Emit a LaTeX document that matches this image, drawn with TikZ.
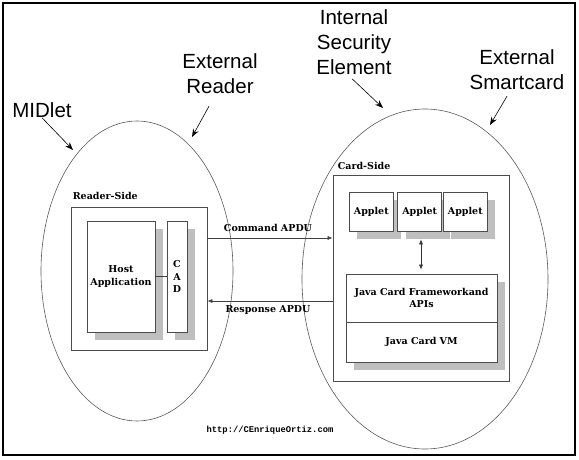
\documentclass[tikz,border=0pt]{standalone}
\usepackage{fontspec}
\setmainfont{DejaVu Serif}
\setsansfont{Liberation Sans}
\setmonofont{Liberation Mono}
\usetikzlibrary{arrows.meta,shadows}

\tikzset{
  callout/.style={font=\sffamily\fontsize{20.5}{25}\selectfont, align=center, inner sep=0pt},
  pointer/.style={-{Stealth[length=8pt,width=6pt]}, line width=0.6pt},
  rim/.style={draw=black!65, line width=0.6pt},
  panel/.style={draw=black!70, fill=white, line width=0.7pt, inner sep=0pt},
  block/.style={panel, font=\bfseries\fontsize{9.5}{12.5}\selectfont, align=center,
    drop shadow={shadow xshift=8pt, shadow yshift=-8pt, fill=black!25, opacity=1}},
  tag/.style={font=\bfseries\fontsize{9.5}{12}\selectfont, inner sep=0pt},
  flow/.style={-{Latex[length=5pt,width=4pt]}, draw=black!75, line width=0.6pt}
}

\begin{document}
\begin{tikzpicture}[x=1pt,y=-1pt]
  \useasboundingbox (0,0) rectangle (579,460);
  \draw[line width=2.5pt] (3,3) rectangle (575,455);

  % the two ellipses
  \draw[rim] (137,271) ellipse (96 and 150);
  \draw[rim] (425,279) ellipse (123 and 170);

  % callouts
  \node[callout] (midlet) at (42,110) {MIDlet};
  \node[callout] (xreader) at (220,74) {External\\Reader};
  \node[callout] (ise) at (354,42) {Internal\\Security\\Element};
  \node[callout] (xcard) at (517,70) {External\\Smartcard};
  \coordinate (midlet-tip) at (73,150);
  \coordinate (xreader-tip) at (192,137);
  \coordinate (ise-tip) at (383,108);
  \coordinate (xcard-tip) at (490,125);
  \draw[pointer] (midlet.south) -- (midlet-tip);
  \draw[pointer] ([shift={(-11,12)}]xreader.south) -- (xreader-tip);
  \draw[pointer] ([shift={(-2,4)}]ise.south) -- (ise-tip);
  \draw[pointer] ([shift={(-10,6)}]xcard.south) -- (xcard-tip);

  % reader side
  \node[panel, minimum width=136pt, minimum height=143pt] (reader) at (139,278.5) {};
  \node[tag, anchor=base west] (readerlbl) at ([shift={(2,-7)}]reader.north west) {Reader-Side};
  \node[block, minimum width=68pt, minimum height=111pt] (host) at (121,276.5) {Host\\Application};
  \node[block, minimum width=20pt, minimum height=111pt] (cad) at (177,276.5) {C\\A\\D};
  \draw[draw=black!75, line width=0.6pt] (host.east) -- (cad.west);

  % card side
  \node[panel, minimum width=176pt, minimum height=206pt] (card) at (421,278) {};
  \node[tag, anchor=base west] (cardlbl) at ([shift={(5,-5)}]card.north west) {Card-Side};
  \node[block, minimum width=44pt, minimum height=39pt] (app1) at (371.3,211.5) {Applet};
  \node[block, minimum width=44pt, minimum height=39pt] (app2) at (419.7,211.5) {Applet};
  \node[block, minimum width=44pt, minimum height=39pt] (app3) at (465.3,211.5) {Applet};
  \node[block, minimum width=151pt, minimum height=48pt] (fw) at (421.5,298) {Java Card Frameworkand\\APIs};
  \node[block, minimum width=151pt, minimum height=40pt] (vm) at (421.5,342) {Java Card VM};
  \draw[{Latex[length=5pt,width=4pt]}-{Latex[length=5pt,width=4pt]}, draw=black!80, line width=0.6pt,
    shorten <=8pt, shorten >=4pt] ([xshift=1.3pt]app2.south) -- ([xshift=1.3pt]app2.south |- fw.north);

  % APDU exchange
  \coordinate (cmd) at (270,238);
  \coordinate (resp) at (270,301);
  \draw[flow] (reader.east |- cmd) -- (card.west |- cmd);
  \draw[flow] (card.west |- resp) -- (reader.east |- resp);
  \node[tag] (cmdlbl) at (268,228) {Command APDU};
  \node[tag] (resplbl) at (268,310) {Response APDU};

  \node[font=\ttfamily\bfseries\fontsize{8.8}{10}\selectfont] (url) at (270,430) {http://CEnriqueOrtiz.com};
\end{tikzpicture}
\end{document}
